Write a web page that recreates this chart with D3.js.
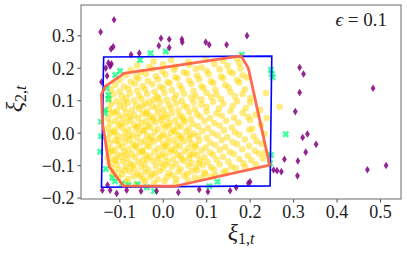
<!DOCTYPE html>
<html>
<head>
<meta charset="utf-8">
<script src="https://cdn.jsdelivr.net/npm/d3@7"></script>
<style>
  body { margin: 0; background: #fff; }
  svg { display: block; }
  .tick text { font-family: "Liberation Serif", serif; font-size: 18px; fill: #222; }
  .tick line { stroke: #333; stroke-width: 0.9; }
</style>
</head>
<body>
<div id="chart"></div>
<script>
// tick values
let xTicks = [-0.1, 0.0, 0.1, 0.2, 0.3, 0.4, 0.5];
let yTicks = [-0.2, -0.1, 0.0, 0.1, 0.2, 0.3];

// box (blue) and polygon (red) corners
let boxPoints = [[-0.136, 0.233], [0.251, 0.236], [0.247, -0.164], [-0.141, -0.168]];
let hullPoints = [[-0.089, 0.183], [0.180, 0.237], [0.197, 0.199], [0.246, -0.100], [0.028, -0.165],
    [-0.091, -0.164], [-0.123, -0.105], [-0.138, 0.024], [-0.141, 0.116], [-0.133, 0.142]];

// samples inside (yellow)
let insidePoints = [
    [-0.085,-0.152],[-0.062,-0.158],[-0.041,-0.150],[-0.02,-0.156],[0.004,-0.149],[0.03,-0.155],[0.058,-0.147],[0.088,-0.140],[0.112,-0.136],
    [-0.102,-0.138],[-0.08,-0.143],[-0.066,-0.134],[-0.046,-0.141],[-0.029,-0.136],[-0.011,-0.144],[0.009,-0.137],[0.031,-0.142],[0.049,-0.133],[0.074,-0.139],[0.098,-0.128],[0.121,-0.131],[0.14,-0.122],
    [-0.112,-0.122],[-0.094,-0.128],[-0.076,-0.119],[-0.058,-0.126],[-0.04,-0.121],[-0.024,-0.129],[-0.006,-0.118],[0.014,-0.124],[0.036,-0.12],[0.056,-0.127],[0.079,-0.116],[0.096,-0.123],[0.118,-0.114],[0.146,-0.118],[0.168,-0.11],[0.19,-0.107],
    [-0.118,-0.107],[-0.101,-0.113],[-0.084,-0.104],[-0.066,-0.111],[-0.049,-0.106],[-0.033,-0.114],[-0.016,-0.103],[0.001,-0.109],[0.021,-0.105],[0.041,-0.112],[0.059,-0.102],[0.076,-0.108],[0.092,-0.1],[0.111,-0.106],[0.131,-0.098],[0.158,-0.104],[0.186,-0.094],[0.214,-0.098],
    [-0.123,-0.092],[-0.106,-0.098],[-0.091,-0.089],[-0.074,-0.096],[-0.056,-0.091],[-0.041,-0.099],[-0.021,-0.088],[-0.004,-0.094],[0.011,-0.09],[0.031,-0.097],[0.049,-0.087],[0.066,-0.093],[0.086,-0.085],[0.103,-0.091],[0.124,-0.083],[0.151,-0.089],[0.176,-0.081],[0.204,-0.085],[0.23,-0.079],
    [-0.127,-0.077],[-0.112,-0.083],[-0.096,-0.074],[-0.081,-0.081],[-0.064,-0.076],[-0.046,-0.084],[-0.029,-0.073],[-0.011,-0.079],[0.006,-0.075],[0.024,-0.082],[0.041,-0.072],[0.061,-0.078],[0.079,-0.07],[0.096,-0.076],[0.116,-0.068],[0.139,-0.074],[0.163,-0.066],[0.196,-0.071],[0.222,-0.064],
    [-0.121,-0.062],[-0.104,-0.068],[-0.089,-0.059],[-0.071,-0.066],[-0.054,-0.061],[-0.039,-0.069],[-0.019,-0.058],[0.001,-0.064],[0.016,-0.06],[0.034,-0.067],[0.051,-0.057],[0.071,-0.063],[0.089,-0.055],[0.109,-0.061],[0.131,-0.053],[0.154,-0.059],[0.183,-0.051],[0.212,-0.056],[0.236,-0.062],
    [-0.126,-0.047],[-0.111,-0.053],[-0.094,-0.044],[-0.079,-0.051],[-0.061,-0.046],[-0.046,-0.054],[-0.031,-0.043],[-0.011,-0.049],[0.004,-0.045],[0.021,-0.052],[0.039,-0.042],[0.059,-0.048],[0.076,-0.04],[0.099,-0.046],[0.121,-0.038],[0.144,-0.044],[0.171,-0.036],[0.199,-0.041],[0.228,-0.035],
    [-0.121,-0.032],[-0.101,-0.038],[-0.086,-0.029],[-0.069,-0.036],[-0.051,-0.031],[-0.036,-0.039],[-0.021,-0.028],[0.001,-0.034],[0.014,-0.03],[0.031,-0.037],[0.049,-0.027],[0.066,-0.033],[0.084,-0.025],[0.109,-0.031],[0.136,-0.023],[0.161,-0.029],[0.189,-0.021],[0.216,-0.026],
    [-0.126,-0.017],[-0.109,-0.023],[-0.091,-0.014],[-0.076,-0.021],[-0.059,-0.016],[-0.041,-0.024],[-0.026,-0.013],[-0.009,-0.019],[0.011,-0.015],[0.026,-0.022],[0.044,-0.012],[0.061,-0.018],[0.081,-0.01],[0.101,-0.016],[0.126,-0.008],[0.149,-0.014],[0.176,-0.006],[0.209,-0.011],[0.234,-0.004],
    [-0.121,-0.002],[-0.104,-0.008],[-0.086,0.001],[-0.069,-0.006],[-0.054,-0.001],[-0.036,-0.009],[-0.019,0.002],[0.001,-0.004],[0.019,0.0],[0.036,-0.007],[0.054,0.003],[0.071,-0.003],[0.091,0.005],[0.114,-0.001],[0.141,0.007],[0.166,0.001],[0.199,0.009],
    [-0.126,0.013],[-0.111,0.007],[-0.094,0.016],[-0.079,0.009],[-0.061,0.014],[-0.044,0.006],[-0.029,0.017],[-0.011,0.011],[0.006,0.015],[0.024,0.008],[0.041,0.018],[0.059,0.012],[0.081,0.02],[0.104,0.014],[0.131,0.022],[0.159,0.016],[0.206,0.012],[0.226,0.024],
    [-0.121,0.028],[-0.101,0.022],[-0.084,0.031],[-0.066,0.024],[-0.049,0.029],[-0.034,0.021],[-0.016,0.032],[0.001,0.026],[0.016,0.03],[0.034,0.023],[0.051,0.033],[0.069,0.027],[0.096,0.035],[0.119,0.029],[0.146,0.037],[0.174,0.031],[0.201,0.039],
    [-0.126,0.043],[-0.109,0.037],[-0.091,0.046],[-0.074,0.039],[-0.056,0.044],[-0.039,0.036],[-0.021,0.047],[-0.004,0.041],[0.011,0.045],[0.029,0.038],[0.046,0.048],[0.064,0.042],[0.086,0.05],[0.109,0.044],[0.136,0.052],[0.164,0.046],[0.196,0.049],[0.239,0.045],
    [-0.119,0.058],[-0.101,0.052],[-0.084,0.061],[-0.066,0.054],[-0.046,0.059],[-0.029,0.051],[-0.011,0.062],[0.006,0.056],[0.021,0.06],[0.039,0.053],[0.061,0.063],[0.079,0.057],[0.101,0.065],[0.124,0.059],[0.156,0.067],[0.184,0.061],[0.214,0.055],
    [-0.124,0.073],[-0.106,0.067],[-0.089,0.076],[-0.071,0.069],[-0.054,0.074],[-0.036,0.066],[-0.014,0.077],[0.001,0.071],[0.019,0.075],[0.036,0.068],[0.056,0.078],[0.074,0.072],[0.101,0.08],[0.129,0.074],[0.161,0.082],[0.191,0.076],[0.224,0.07],
    [-0.119,0.088],[-0.099,0.082],[-0.081,0.091],[-0.061,0.084],[-0.039,0.089],[-0.024,0.081],[-0.006,0.092],[0.014,0.086],[0.031,0.09],[0.049,0.083],[0.071,0.093],[0.089,0.087],[0.116,0.095],[0.139,0.089],[0.171,0.097],[0.201,0.093],[0.269,0.08],
    [-0.124,0.103],[-0.106,0.097],[-0.084,0.106],[-0.066,0.099],[-0.049,0.104],[-0.031,0.096],[-0.009,0.107],[0.009,0.101],[0.026,0.105],[0.044,0.098],[0.066,0.108],[0.089,0.102],[0.111,0.11],[0.134,0.104],[0.166,0.112],[0.201,0.106],
    [-0.114,0.118],[-0.094,0.112],[-0.076,0.121],[-0.054,0.114],[-0.036,0.119],[-0.014,0.111],[0.004,0.122],[0.031,0.116],[0.049,0.12],[0.076,0.113],[0.101,0.123],[0.124,0.117],[0.156,0.125],[0.184,0.119],[0.238,0.122],
    [-0.119,0.133],[-0.099,0.127],[-0.079,0.136],[-0.059,0.129],[-0.041,0.134],[-0.019,0.126],[0.001,0.137],[0.021,0.131],[0.044,0.135],[0.071,0.128],[0.094,0.138],[0.121,0.132],[0.151,0.14],[0.189,0.134],
    [-0.109,0.148],[-0.089,0.142],[-0.064,0.151],[-0.046,0.144],[-0.024,0.149],[-0.006,0.141],[0.016,0.152],[0.039,0.146],[0.066,0.15],[0.089,0.143],[0.116,0.153],[0.144,0.147],[0.176,0.155],
    [-0.099,0.163],[-0.074,0.157],[-0.056,0.166],[-0.034,0.159],[-0.011,0.164],[0.011,0.156],[0.034,0.167],[0.061,0.161],[0.084,0.165],[0.111,0.158],[0.139,0.168],[0.171,0.162],[0.194,0.17],
    [-0.084,0.178],[-0.061,0.172],[-0.039,0.181],[-0.016,0.174],[0.006,0.179],[0.029,0.171],[0.056,0.182],[0.079,0.176],[0.106,0.18],[0.134,0.173],[0.161,0.183],[0.184,0.177],
    [-0.074,0.193],[-0.051,0.187],[-0.024,0.196],[-0.001,0.189],[0.026,0.194],[0.049,0.186],[0.076,0.197],[0.101,0.191],[0.131,0.195],[0.154,0.188],[0.179,0.198],
    [-0.059,0.207],[-0.031,0.202],[0.001,0.211],[0.029,0.204],[0.061,0.209],[0.089,0.201],[0.119,0.212],[0.149,0.206],[0.176,0.214],
    [-0.021,0.219],[0.019,0.224],[0.059,0.218],[0.099,0.226],[0.139,0.221],[0.171,0.228]
];

// extra samples where the cloud is densest (lower left)
let corePoints = [
    [-0.115,-0.129],[-0.087,-0.116],[-0.052,-0.133],[-0.017,-0.124],[0.022,-0.131],[0.067,-0.119],
    [-0.108,-0.085],[-0.069,-0.101],[-0.035,-0.082],[0.006,-0.098],[0.044,-0.081],[0.083,-0.094],
    [-0.117,-0.056],[-0.084,-0.068],[-0.047,-0.058],[-0.008,-0.071],[0.027,-0.055],[0.064,-0.069],
    [-0.103,-0.025],[-0.063,-0.040],[-0.028,-0.022],[0.008,-0.041],[0.041,-0.019],[0.074,-0.044],
    [-0.113,0.002],[-0.078,-0.011],[-0.043,0.009],[-0.004,-0.012],[0.029,0.004],[0.063,-0.009],
    [-0.096,0.028],[-0.057,0.019],[-0.024,0.038],[0.013,0.021],[0.047,0.039],
    [-0.112,0.063],[-0.077,0.049],[-0.038,0.058],[-0.002,0.049],
    [-0.091,0.095],[-0.047,0.083],[-0.020,0.101]
];

// samples on the box edge (green X)
let edgePoints = [
    [-0.028,0.245],[0.007,0.250],[-0.052,0.224],[-0.098,0.190],[-0.109,0.178],[0.182,0.240],
    [0.249,0.194],[0.251,0.181],[0.253,0.171],
    [-0.129,0.137],[-0.125,0.116],[-0.125,0.103],[-0.133,0.070],[-0.133,0.060],[-0.142,0.034],
    [0.283,-0.005],[-0.142,-0.011],[-0.144,-0.059],[0.249,-0.069],[0.247,-0.095],
    [-0.131,-0.112],[-0.116,-0.138],[-0.110,-0.150],[-0.094,-0.157],[-0.079,-0.161],[-0.058,-0.159],
    [-0.037,-0.168],[-0.020,-0.180],[0.107,-0.165],[0.126,-0.151]
];

// samples outside (purple diamonds)
let outsidePoints = [
    [-0.112,0.348],[-0.143,0.310],[-0.119,0.258],[-0.114,0.265],[-0.004,0.291],[0.015,0.288],
    [-0.009,0.268],[0.015,0.262],[0.044,0.288],[0.045,0.279],[0.099,0.279],[0.107,0.271],
    [0.147,0.271],[0.194,0.299],[-0.073,0.240],[-0.054,0.245],[-0.125,0.215],[-0.118,0.212],
    [-0.121,0.205],[-0.131,0.199],[-0.128,0.175],[-0.141,0.156],
    [0.315,0.201],[0.324,0.181],[0.315,0.124],[0.305,0.065],[0.484,0.137],[0.333,-0.004],
    [0.322,-0.015],[0.353,-0.036],[0.329,-0.060],[0.280,-0.082],[0.311,-0.087],[0.310,-0.133],
    [0.471,-0.114],[0.514,-0.101],[0.255,-0.115],[0.263,-0.117],[0.273,-0.120],
    [0.197,-0.156],[0.201,-0.151],[0.169,-0.169],[0.155,-0.179],[0.104,-0.182],[0.084,-0.175],
    [0.036,-0.184],[-0.014,-0.180],[-0.050,-0.180],[-0.083,-0.177],[-0.106,-0.187],
    [-0.121,-0.177],[-0.127,-0.161],[-0.139,-0.177]
];

let width = 407, height = 257;
let margin = {top: 5, right: 6, bottom: 58, left: 81};

let svg = d3.select("#chart").append("svg")
    .attr("width", width)
    .attr("height", height);

let x = d3.scaleLinear().domain([-0.1881, 0.5483]).range([margin.left, width - margin.right]);
let y = d3.scaleLinear().domain([-0.2043, 0.3934]).range([height - margin.bottom, margin.top]);

let fmt = d3.format(".1f");

// axes
svg.append("g")
    .attr("transform", "translate(0," + (height - margin.bottom) + ")")
    .call(d3.axisBottom(x).tickValues(xTicks).tickSize(3.5).tickPadding(3).tickFormat(fmt))
    .call(g => g.select(".domain").remove());

svg.append("g")
    .attr("transform", "translate(" + margin.left + ",0)")
    .call(d3.axisLeft(y).tickValues(yTicks).tickSize(3.5).tickPadding(3).tickFormat(fmt))
    .call(g => g.select(".domain").remove())
    .selectAll("text").attr("dy", "0.35em");

let plot = svg.append("g");

// yellow samples
plot.selectAll(".inside")
    .data(insidePoints.concat(corePoints)).enter()
    .append("circle")
    .attr("cx", d => x(d[0]))
    .attr("cy", d => y(d[1]))
    .attr("r", 3.3)
    .style("fill", "#ffd700")
    .style("fill-opacity", 0.5);

// green X markers
let xSymbol = d3.symbol().type(d3.symbolCross).size(30);
plot.selectAll(".edge")
    .data(edgePoints).enter()
    .append("path")
    .attr("d", xSymbol)
    .attr("transform", d => "translate(" + x(d[0]) + "," + y(d[1]) + ") rotate(45)")
    .style("fill", "#00ff7f")
    .style("fill-opacity", 0.75);

// purple thin diamonds
plot.selectAll(".outside")
    .data(outsidePoints).enter()
    .append("path")
    .attr("d", "M0,-3.8L2.4,0L0,3.8L-2.4,0Z")
    .attr("transform", d => "translate(" + x(d[0]) + "," + y(d[1]) + ")")
    .style("fill", "#800080")
    .style("fill-opacity", 0.85);

let line = d3.line().x(d => x(d[0])).y(d => y(d[1])).curve(d3.curveLinearClosed);

plot.append("path")
    .attr("d", line(boxPoints))
    .style("fill", "none")
    .style("stroke", "#0000ff")
    .style("stroke-width", 1.6);

plot.append("path")
    .attr("d", line(hullPoints))
    .style("fill", "none")
    .style("stroke", "#ff6347")
    .style("stroke-opacity", 0.95)
    .style("stroke-width", 2.8)
    .style("stroke-linejoin", "round");

// frame
svg.append("rect")
    .attr("x", margin.left)
    .attr("y", margin.top)
    .attr("width", width - margin.left - margin.right)
    .attr("height", height - margin.top - margin.bottom)
    .style("fill", "none")
    .style("stroke", "#777")
    .style("stroke-width", 1.1);

// annotation
svg.append("text")
    .attr("x", 387)
    .attr("y", 26)
    .attr("text-anchor", "end")
    .style("font-family", "'Liberation Serif', 'DejaVu Serif', serif")
    .style("font-size", "19px")
    .style("fill", "#222")
    .html("<tspan font-style='italic'>ϵ</tspan> = 0.1");

// axis labels
let xl = svg.append("text")
    .attr("x", (margin.left + width - margin.right) / 2)
    .attr("y", 240)
    .attr("text-anchor", "middle")
    .style("font-family", "'Liberation Serif', serif")
    .style("fill", "#222");
xl.append("tspan").style("font-size", "24px").style("font-style", "italic").text("ξ");
xl.append("tspan").style("font-size", "16px").attr("dy", 4).text("1,");
xl.append("tspan").style("font-size", "16px").style("font-style", "italic").text("t");

let yl = svg.append("text")
    .attr("transform", "translate(22," + ((margin.top + height - margin.bottom) / 2 - 3) + ") rotate(-90)")
    .attr("text-anchor", "middle")
    .style("font-family", "'Liberation Serif', serif")
    .style("fill", "#222");
yl.append("tspan").style("font-size", "24px").style("font-style", "italic").text("ξ");
yl.append("tspan").style("font-size", "16px").attr("dy", 4).text("2,");
yl.append("tspan").style("font-size", "16px").style("font-style", "italic").text("t");
</script>
</body>
</html>
